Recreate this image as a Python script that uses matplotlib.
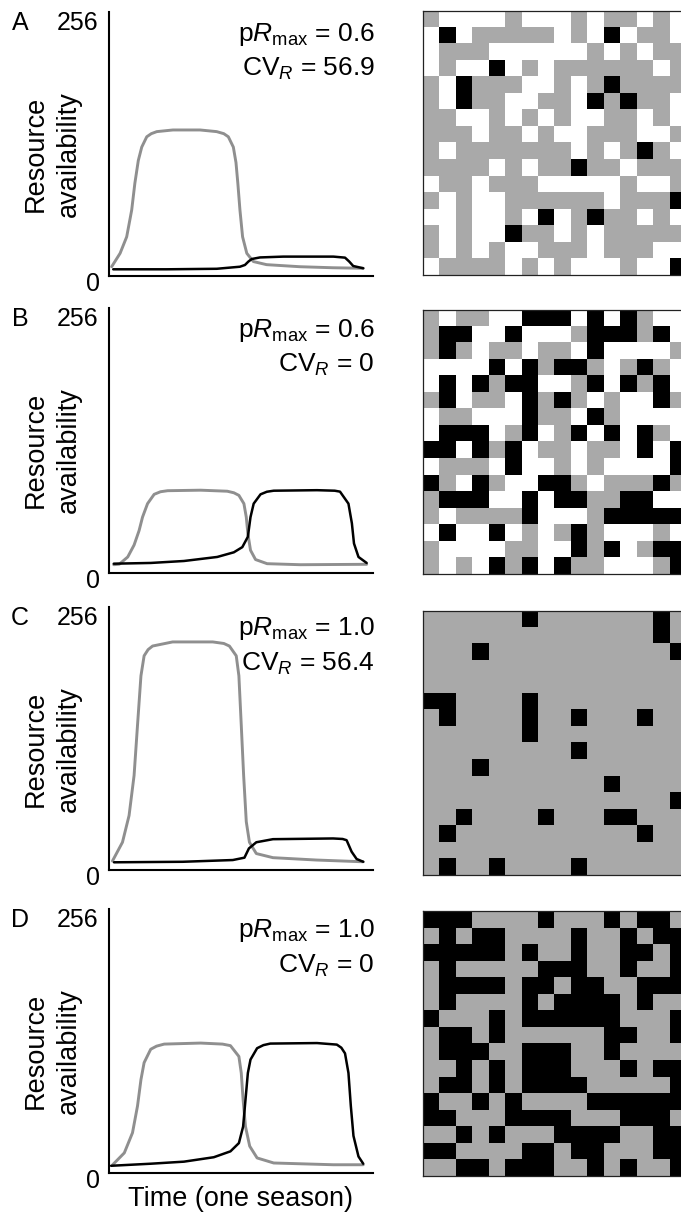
import numpy as np
import matplotlib
matplotlib.use('Agg')
import matplotlib.pyplot as plt
from matplotlib.colors import ListedColormap

plt.rcParams['font.family'] = ['Liberation Sans', 'DejaVu Sans']
plt.rcParams['mathtext.fontset'] = 'custom'
plt.rcParams['mathtext.rm'] = 'Liberation Sans'
plt.rcParams['mathtext.it'] = 'Liberation Sans:italic'

# panel labels and annotations
panels = ['A', 'B', 'C', 'D']
p_rmax = ['0.6', '0.6', '1.0', '1.0']
cv_r = ['56.9', '0', '56.4', '0']

# resource curves (time as % of season, availability 0-256)
t_gray_a = [1.0, 4.2, 6.7, 8.6, 9.8, 11.1, 12.4, 14.3, 16.0, 18.1, 24.2, 34.5, 40.8, 43.5,
            45.2, 47.1, 48.1, 48.8, 49.6, 50.6, 52.2, 54.7, 59.7, 72.3, 84.8, 96.3]
v_gray_a = [9, 22, 38, 64, 90, 112, 125, 135, 138, 140, 141.6, 141.6, 140, 138,
            135, 125, 110, 90, 64, 38, 22, 14, 11, 9, 8, 7.5]
t_black_a = [1.6, 21.9, 40.8, 49.6, 51.5, 52.8, 54.1, 57.2, 66.0, 85.0, 89.4, 91.0, 92.5, 96.3]
v_black_a = [6.5, 6.5, 7, 9, 10.7, 14, 16.5, 18, 18.8, 18.8, 17.8, 14, 9.7, 7.5]

t_gray_b = [1.8, 3.9, 7.1, 9.5, 11.4, 12.7, 14.6, 17.1, 19.5, 22.2, 34.7, 44.8, 47.3, 49.2,
            51.1, 52.0, 52.6, 53.6, 55.5, 59.9, 72.5, 97.6]
v_gray_b = [8, 8.5, 15.5, 27, 41, 54, 67, 76, 78.5, 79.5, 80, 79, 77.5, 75,
            67, 54, 38, 22, 13, 9, 8, 8.4]
t_black_b = [1.8, 15.8, 28.4, 41.0, 47.3, 50.5, 52.6, 53.6, 54.8, 57.4, 59.8, 62.4, 78.8,
             85.5, 87.5, 90.7, 92.0, 92.8, 94.5, 97.6]
v_black_b = [9, 9.7, 11.6, 15.5, 20, 25, 35, 54, 67, 76, 78.5, 79.5, 80,
             79.5, 78.6, 67, 48, 28.5, 15.5, 9.7]

t_gray_c = [1.3, 5.1, 7.6, 9.5, 10.8, 12.1, 13.3, 14.8, 16.5, 24.1, 39.3, 43.5, 45.6, 48.2,
            49.2, 50.1, 51.0, 52.0, 53.2, 55.8, 62.1, 78.6, 96.3]
v_gray_c = [8.7, 27, 53, 92, 141, 189, 208.5, 214.5, 218, 222, 222, 220.5, 218, 208.5,
            189, 141, 92, 47, 27, 16, 12, 9.7, 8]
t_black_c = [1.9, 27.9, 46.9, 51.3, 53.0, 55.8, 62.1, 84.9, 88.5, 90.0, 91.9, 93.8, 96.3]
v_black_c = [7.5, 8, 9.7, 12, 21, 27, 30, 30.7, 30.2, 29, 17.8, 10.7, 8]

t_gray_d = [1.4, 5.8, 8.9, 10.8, 12.1, 13.3, 15.8, 18.0, 20.9, 34.7, 43.0, 46.0, 49.2, 50.1,
            50.8, 51.7, 53.3, 56.1, 62.4, 85.0, 96.3]
v_gray_d = [8, 19.5, 39, 65, 90.5, 107, 120, 123, 125, 126, 125, 123.5, 113, 97,
            71, 45, 26, 14.6, 9.7, 8, 8]
t_black_d = [0.8, 15.8, 28.4, 39.7, 46.0, 49.2, 50.8, 51.7, 52.6, 53.6, 56.1, 58.5, 61.1,
             78.8, 86.3, 88.0, 89.4, 90.7, 91.6, 92.6, 94.5, 96.3]
v_black_d = [7, 9, 11, 15.3, 21, 29, 45, 71, 97, 110, 121, 124, 125.5,
             126, 124.5, 121.5, 116, 97, 65, 36, 16, 9]

# landscape grids: 0 = white, 1 = gray, 2 = black
grid_a = ["1000010001011010", "0201111101020110", "0111000000101011", "0100201011111101",
          "1021110010121111", "1021100110212110", "1100101010011010", "1110110100111001",
          "1011111110101210", "1111010112110111", "0110111000001001", "1010011111101112",
          "0010010201211010", "1010021101011111", "1010100111011100", "0111101010001002"]
grid_b = ["1011002220202100", "1220020001222120", "1210110110200001", "0000202122101210",
          "0202122001202120", "1201102121010021", "0110002110210000", "0222012012020210",
          "2202120110110202", "0111020010100002", "2102100221011121", "1222002022112200",
          "1011112000122222", "0200201012100010", "1000011002120122", "1010212021100012"]
grid_c = ["1111112111111121", "1111111111111121", "1112111111111112", "1111111111111111",
          "1111111111111111", "2211112111111111", "1211112112111211", "1111112111111111",
          "1111111112111111", "1112111111111111", "1111111111121111", "1111111111111112",
          "1121111211122111", "1211111111111211", "1111111111111111", "1211211112111111"]
grid_d = ["2221111211121221", "1212211112112122", "2222212112112212", "1211111222112112",
          "1222212212211222", "1211112122221211", "2111212222221112", "1221211111122112",
          "1222112221121111", "1121212221112122", "1221212222111112", "2112121111222222",
          "2211122221112221", "1121211122221122", "2211112212211122", "1122122211212112"]

curves = [(t_gray_a, v_gray_a, t_black_a, v_black_a),
          (t_gray_b, v_gray_b, t_black_b, v_black_b),
          (t_gray_c, v_gray_c, t_black_c, v_black_c),
          (t_gray_d, v_gray_d, t_black_d, v_black_d)]
grids = [grid_a, grid_b, grid_c, grid_d]

W, H = 681, 1212
fig = plt.figure(figsize=(W / 100, H / 100), dpi=100)


def fx(px):
    return px / W


def fy(py):
    return 1 - py / H


# pixel layout of each row: (plot top, plot bottom, grid top, grid bottom)
rows = [(12, 276, 11, 275), (308, 573, 310, 574), (607, 870, 611, 875), (909, 1173, 911, 1176)]
cmap = ListedColormap(['#ffffff', '#a9a9a9', '#000000'])
fs_num = 18
fs_note = 19
fs_lab = 19.5

for i, (top, bot, gtop, gbot) in enumerate(rows):
    ax = fig.add_axes([fx(109), fy(bot), fx(373) - fx(109), fy(top) - fy(bot)])
    tg, vg, tb, vb = curves[i]
    ax.plot(tg, vg, color='#8f8f8f', lw=2.1, solid_joinstyle='round',
            solid_capstyle='round', clip_on=False)
    ax.plot(tb, vb, color='black', lw=1.8, solid_joinstyle='round',
            solid_capstyle='round', clip_on=False)
    ax.set_xlim(0, 100)
    ax.set_ylim(0, 256)
    ax.set_xticks([])
    ax.set_yticks([])
    for s in ['top', 'right']:
        ax.spines[s].set_visible(False)
    for s in ['left', 'bottom']:
        ax.spines[s].set_linewidth(1.5)

    fig.text(fx(20), fy(top + 11), panels[i], fontsize=fs_num, ha='center', va='center')
    fig.text(fx(98), fy(top + 11), '256', fontsize=fs_num, ha='right', va='center')
    fig.text(fx(93), fy(bot + 8), '0', fontsize=fs_num, ha='center', va='center')
    fig.text(fx(375), fy(top + 22), r'p$R_{\mathrm{max}}$ = ' + p_rmax[i],
             fontsize=fs_note, ha='right', va='center')
    fig.text(fx(375), fy(top + 57), r'CV$_R$ = ' + cv_r[i],
             fontsize=fs_note, ha='right', va='center')
    fig.text(fx(43), fy(top + 142), 'Resource', fontsize=fs_lab, rotation=90,
             rotation_mode='anchor', ha='center', va='baseline')
    fig.text(fx(76), fy(top + 142), 'availability', fontsize=fs_lab, rotation=90,
             rotation_mode='anchor', ha='center', va='baseline')

    gax = fig.add_axes([fx(423), fy(gbot), 16 * 16.4 / W, fy(gtop) - fy(gbot)])
    arr = np.array([[int(c) for c in row] for row in grids[i]])
    gax.imshow(arr, cmap=cmap, vmin=0, vmax=2, aspect='auto', interpolation='nearest')
    gax.set_xticks([])
    gax.set_yticks([])
    for s in gax.spines.values():
        s.set_linewidth(0.9)
        s.set_color('#222222')

fig.text(fx(240), fy(1206), 'Time (one season)', fontsize=fs_lab, ha='center', va='baseline')

fig.savefig('out.png', dpi=100)
